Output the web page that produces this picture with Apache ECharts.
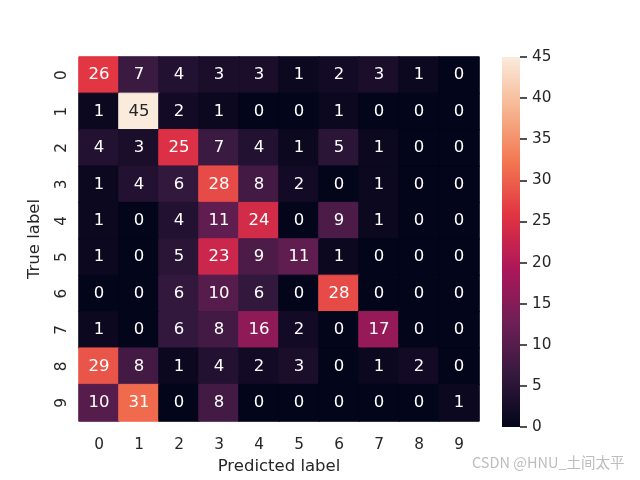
<!DOCTYPE html>
<html>
<head>
<meta charset="utf-8">
<script src="https://cdn.jsdelivr.net/npm/echarts@6/dist/echarts.min.js"></script>
<style>html,body{margin:0;padding:0;background:#fff}#c{width:640px;height:480px}</style>
</head>
<body>
<div id="c"></div>
<script>
var predictedLabels = ['0','1','2','3','4','5','6','7','8','9'];
var trueLabels = ['0','1','2','3','4','5','6','7','8','9'];
var row0 = [26, 7, 4, 3, 3, 1, 2, 3, 1, 0];
var row1 = [1, 45, 2, 1, 0, 0, 1, 0, 0, 0];
var row2 = [4, 3, 25, 7, 4, 1, 5, 1, 0, 0];
var row3 = [1, 4, 6, 28, 8, 2, 0, 1, 0, 0];
var row4 = [1, 0, 4, 11, 24, 0, 9, 1, 0, 0];
var row5 = [1, 0, 5, 23, 9, 11, 1, 0, 0, 0];
var row6 = [0, 0, 6, 10, 6, 0, 28, 0, 0, 0];
var row7 = [1, 0, 6, 8, 16, 2, 0, 17, 0, 0];
var row8 = [29, 8, 1, 4, 2, 3, 0, 1, 2, 0];
var row9 = [10, 31, 0, 8, 0, 0, 0, 0, 0, 1];
var colorbarTicks = [0, 5, 10, 15, 20, 25, 30, 35, 40, 45];
var rows = [row0,row1,row2,row3,row4,row5,row6,row7,row8,row9];
var vmin = 0, vmax = 45;
var rocket = ['#03051a','#35193e','#701f57','#ad1759','#e13342','#f37651','#f6b48f','#faebdd'];

function hex2rgb(h){ return [parseInt(h.substr(1,2),16), parseInt(h.substr(3,2),16), parseInt(h.substr(5,2),16)]; }
function cmap(t){
  t = Math.max(0, Math.min(1, t));
  var n = rocket.length - 1, f = t * n, i = Math.min(Math.floor(f), n - 1), u = f - i;
  var a = hex2rgb(rocket[i]), b = hex2rgb(rocket[i + 1]);
  return 'rgb(' + a.map(function(c, k){ return Math.round(c + (b[k] - c) * u); }).join(',') + ')';
}

var data = [];
rows.forEach(function(r, yi){
  r.forEach(function(v, xi){
    var t = (v - vmin) / (vmax - vmin);
    var col = cmap(t);
    var item = {value: [xi, yi, v], itemStyle: {color: col, borderColor: col, borderWidth: 1}};
    if (t > 0.8) item.label = {color: '#262626'};
    data.push(item);
  });
});

var txt = '#262626';
var font = 'DejaVu Sans';
var chart = echarts.init(document.getElementById('c'), null, {renderer: 'canvas'});
chart.setOption({
  animation: false,
  backgroundColor: '#fff',
  textStyle: {fontFamily: font, color: txt},
  grid: [
    {left: 79, top: 57, width: 400, height: 370},
    {left: 502, top: 57, width: 18, height: 370},
    {left: 520, top: 57, width: 40, height: 370}
  ],
  xAxis: [
    {type: 'category', gridIndex: 0, data: predictedLabels, name: 'Predicted label',
     nameLocation: 'middle', nameGap: 37,
     nameTextStyle: {fontSize: 16.5, color: txt, fontFamily: font},
     axisLine: {show: false}, axisTick: {show: false}, splitLine: {show: false},
     axisLabel: {fontSize: 15.3, color: txt, margin: 17, fontFamily: font}},
    {type: 'value', gridIndex: 1, show: false, min: 0, max: 1},
    {type: 'value', gridIndex: 2, show: false, min: 0, max: 1}
  ],
  yAxis: [
    {type: 'category', gridIndex: 0, data: trueLabels, inverse: true, name: 'True label',
     nameLocation: 'middle', nameGap: 36, nameRotate: 90,
     nameTextStyle: {fontSize: 16.5, color: txt, fontFamily: font},
     axisLine: {show: false}, axisTick: {show: false}, splitLine: {show: false},
     axisLabel: {fontSize: 15.3, color: txt, margin: 9, rotate: 90, fontFamily: font}},
    {type: 'value', gridIndex: 1, min: vmin, max: vmax, show: false},
    {type: 'value', gridIndex: 2, position: 'left', min: vmin, max: vmax, interval: 5,
     axisLine: {show: false}, splitLine: {show: false},
     axisTick: {show: true, inside: true, length: 7, lineStyle: {color: txt, width: 1.6}},
     axisLabel: {inside: true, fontSize: 15.3, color: txt, margin: 12, fontFamily: font,
       formatter: function(v){ return colorbarTicks.indexOf(v) >= 0 ? String(v) : ''; }}}
  ],
  series: [{
    type: 'heatmap', xAxisIndex: 0, yAxisIndex: 0, data: data,
    label: {show: true, color: '#ffffff', fontSize: 16.5, fontFamily: font,
      formatter: function(p){ return String(p.value[2]); }},
    emphasis: {disabled: true}
  }, {
    type: 'custom', xAxisIndex: 1, yAxisIndex: 1, silent: true,
    data: [[0, vmin, 1, vmax]],
    renderItem: function(params, api){
      var p0 = api.coord([api.value(0), api.value(1)]);
      var p1 = api.coord([api.value(2), api.value(3)]);
      var stops = rocket.map(function(c, i){ return {offset: 1 - i / (rocket.length - 1), color: c}; }).reverse();
      return {
        type: 'rect',
        shape: {x: p0[0], y: p1[1], width: p1[0] - p0[0], height: p0[1] - p1[1]},
        style: {fill: new echarts.graphic.LinearGradient(0, 0, 0, 1, stops)}
      };
    }
  }],
  graphic: [{
    type: 'text', left: 472, top: 455,
    style: {text: 'CSDN @HNU_土间太平', fill: '#bdbdbd', fontSize: 14.5,
      fontFamily: 'Noto Sans CJK SC'}
  }]
});
</script>
</body>
</html>
